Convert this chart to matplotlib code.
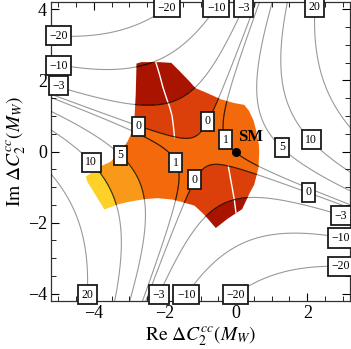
import numpy as np
import matplotlib
matplotlib.use("Agg")
import matplotlib.pyplot as plt
from matplotlib.patches import Polygon

plt.rcParams['font.family'] = ['Liberation Serif', 'DejaVu Serif']
plt.rcParams['mathtext.fontset'] = 'stix'
plt.rcParams['contour.negative_linestyle'] = 'solid'

# contour labels: position and value
label_x = [-1.94, -0.56, 0.205, 2.20, -4.99, -4.99, -4.99, -2.74, -3.26, -4.07, -1.69, -0.80,
           -0.30, -1.17, 1.29, 2.11, 2.04, 2.95, 2.95, 2.95, -4.17, -2.17, -1.40, -0.02]
label_y = [4.04, 4.04, 4.04, 4.06, 3.25, 2.41, 1.85, 0.705, -0.11, -0.30, -0.32, 0.845,
           0.33, -0.79, 0.115, 0.33, -1.15, -1.80, -2.43, -3.23, -4.02, -4.02, -4.02, -4.02]
label_v = [-20, -10, -3, 20, -20, -10, -3, 0, 5, 10, 1, 0,
           1, 0, 5, 10, 0, -3, -10, -20, 20, -3, -10, -20]

levels = [-20, -10, -3, 0, 1, 5, 10, 20]
band_edges = [-1000, -3, 0, 5, 10, 1000]
band_colors = ['#a81400', '#dc400a', '#f26a0c', '#f8991a', '#fdd12a']

# SM point
sm_x, sm_y, sm_v = 0.0, 0.0, 1.0

# allowed region outline
region_x = [-2.80, -2.66, -2.15, -1.82, -1.59, -1.31, -1.14, -0.81, -0.41, -0.05, 0.23, 0.37,
            0.49, 0.57, 0.64, 0.65, 0.63, 0.51, 0.37, 0.17, -0.24, -0.57, -0.89, -1.17,
            -1.45, -1.79, -2.21, -2.58, -3.00, -3.33, -3.70, -3.92, -4.18, -4.22, -3.90,
            -3.53, -3.25, -3.05, -2.87, -2.82, -2.80]
region_y = [2.47, 2.51, 2.51, 2.49, 2.26, 1.97, 1.78, 1.64, 1.46, 1.36, 1.31, 1.13,
            0.87, 0.56, 0.19, -0.01, -0.46, -0.93, -1.19, -1.62, -1.89, -2.15, -1.78, -1.52,
            -1.44, -1.35, -1.31, -1.34, -1.41, -1.49, -1.63, -1.27, -0.85, -0.71, -0.46,
            -0.29, -0.01, 0.28, 0.67, 1.60, 2.35]

# white curves inside the region
white1_x = [-2.30, -2.25, -2.15, -2.06, -1.96, -1.87, -1.80, -1.76, -1.73]
white1_y = [2.70, 2.49, 2.16, 1.82, 1.51, 1.26, 1.01, 0.70, 0.39]
white2_x = [-0.22, -0.16, -0.10, -0.05, -0.01, 0.02]
white2_y = [-0.40, -0.74, -1.07, -1.36, -1.67, -1.90]

# fit the contour field (real part of a quadratic) to the labelled points
lx = np.array(label_x + [sm_x] * 5)
ly = np.array(label_y + [sm_y] * 5)
lv = np.array(label_v + [sm_v] * 5, dtype=float)
A = np.column_stack([np.ones_like(lx), lx, ly, lx**2 - ly**2, 2 * lx * ly])
coef = np.linalg.lstsq(A, lv, rcond=None)[0]

X, Y = np.meshgrid(np.linspace(-5.2, 3.2, 500), np.linspace(-4.2, 4.2, 500))
F = coef[0] + coef[1] * X + coef[2] * Y + coef[3] * (X**2 - Y**2) + coef[4] * 2 * X * Y

fig = plt.figure(figsize=(3.51, 3.49), dpi=100)
ax = fig.add_axes([51 / 351, 48 / 349, 299 / 351, 299 / 349])

region = Polygon(np.column_stack([region_x, region_y]), closed=True,
                 facecolor='none', edgecolor='none')
ax.add_patch(region)

cf = ax.contourf(X, Y, F, levels=band_edges, colors=band_colors, zorder=1)
cf.set_clip_path(region)

for wx, wy in [(white1_x, white1_y), (white2_x, white2_y)]:
    ln, = ax.plot(wx, wy, color='white', lw=1.0, zorder=2)
    ln.set_clip_path(region)

ax.contour(X, Y, F, levels=levels, colors='k', linewidths=0.8, alpha=0.4,
           linestyles='solid', zorder=3)
cs_in = ax.contour(X, Y, F, levels=levels, colors='k', linewidths=0.8, alpha=0.6,
                   linestyles='solid', zorder=3)
cs_in.set_clip_path(region)

for x, y, v in zip(label_x, label_y, label_v):
    txt = str(v).replace('-', '\u2212')
    ax.text(x, y, txt, ha='center', va='center', fontsize=8.5, zorder=5, clip_on=False,
            bbox=dict(boxstyle='square,pad=0.3', fc='white', ec='#1a1a1a', lw=1.3))

ax.plot([sm_x], [sm_y], 'o', color='black', ms=5.5, zorder=6)
ax.text(sm_x + 0.05, sm_y + 0.40, 'SM', ha='left', va='center', fontsize=12,
        fontweight='bold', zorder=6)

ax.set_xlim(-5.2, 3.2)
ax.set_ylim(-4.2, 4.2)
ax.set_xticks([-4, -2, 0, 2])
ax.set_yticks([-4, -2, 0, 2, 4])
ax.set_xticks(np.arange(-5, 3.01, 0.5), minor=True)
ax.set_yticks(np.arange(-4, 4.01, 0.5), minor=True)
ax.tick_params(which='both', direction='in', top=True, right=True, labelsize=13)
ax.tick_params(which='major', length=6, width=0.8, pad=3)
ax.tick_params(which='minor', length=3.5, width=0.6)
for s in ax.spines.values():
    s.set_linewidth(0.9)
    s.set_color('#333333')

ax.set_xlabel(r'$\mathrm{Re}\ \Delta C_2^{cc}(M_W)$', fontsize=14, labelpad=2)
ax.set_ylabel(r'$\mathrm{Im}\ \Delta C_2^{cc}(M_W)$', fontsize=14, labelpad=0)

fig.savefig('out.png', dpi=100)
